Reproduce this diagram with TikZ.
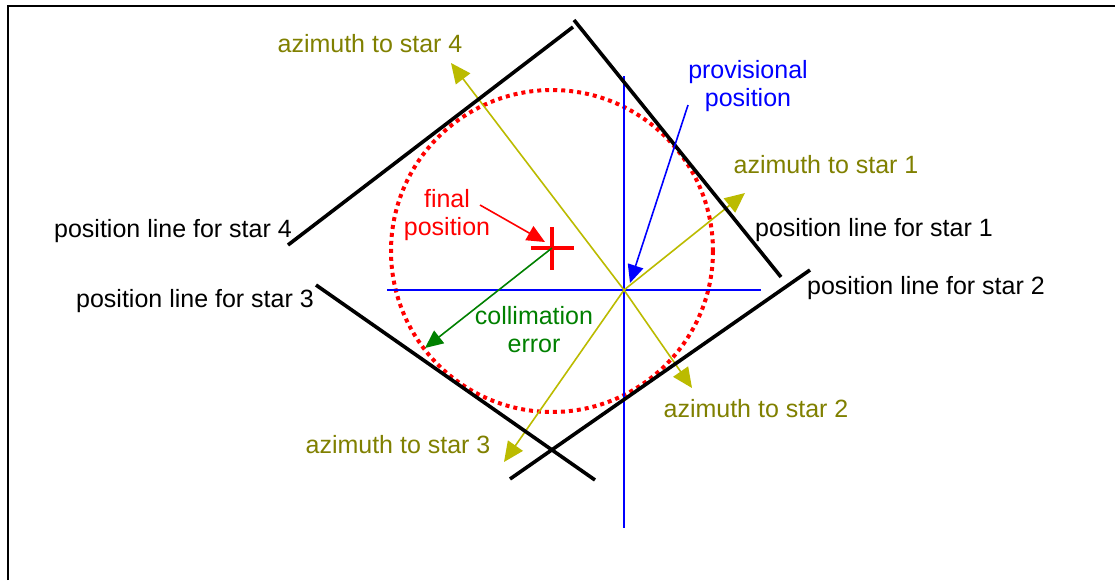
\documentclass[tikz,border=0pt]{standalone}
\usepackage{fontspec}
\setmainfont{Liberation Sans}
\usetikzlibrary{arrows.meta,positioning}
\definecolor{azolive}{RGB}{128,128,0}
\definecolor{azline}{RGB}{187,187,0}
\definecolor{provblue}{RGB}{0,0,255}
\definecolor{fixred}{RGB}{255,0,0}
\definecolor{errgreen}{RGB}{0,128,0}
\tikzset{
  txt/.style={
    font=\fontsize{12.5}{14}\selectfont,
    align=center,
    inner sep=0pt
  },
  posline/.style={line width=1.8pt, draw=black},
  gridline/.style={line width=1.4pt, draw=provblue},
  azarrow/.style={-{Triangle[length=10pt,width=9pt]}, line width=0.8pt, draw=azline},
  pointer/.style={-{Triangle[length=9pt,width=8pt]}, line width=0.8pt},
  errcircle/.style={draw=fixred, line width=2pt, dash pattern=on 2pt off 2pt}
}
\begin{document}
\begin{tikzpicture}[x=0.5pt, y=-0.5pt]
  \useasboundingbox (0,0) rectangle (1115,580);
  \draw[line width=1pt] (8,580) -- (8,6) -- (1115,6);

  \coordinate (prov) at (624,290);
  \coordinate (fix) at (552,248);
  \coordinate (ctr) at (552,251);

  \draw[errcircle] (ctr) circle[radius=161];

  \coordinate (gw) at (387,290);
  \coordinate (ge) at (761,290);
  \coordinate (gn) at (624,76);
  \coordinate (gs) at (624,528);
  \draw[gridline] (gw) -- (ge);
  \draw[gridline] (gn) -- (gs);

  \coordinate (az1) at (745,193);
  \coordinate (az2) at (692,388);
  \coordinate (az3) at (504,462);
  \coordinate (az4) at (451,63);
  \draw[azarrow] (prov) -- (az1);
  \draw[azarrow] (prov) -- (az2);
  \draw[azarrow] (prov) -- (az3);
  \draw[azarrow] (prov) -- (az4);

  \coordinate (p1a) at (574,20);
  \coordinate (p1b) at (781,277);
  \coordinate (p2a) at (810,270);
  \coordinate (p2b) at (510,479);
  \coordinate (p3a) at (316,285);
  \coordinate (p3b) at (595,480);
  \coordinate (p4a) at (288,245);
  \coordinate (p4b) at (573,27);
  \draw[posline] (p1a) -- (p1b);
  \draw[posline] (p2a) -- (p2b);
  \draw[posline] (p3a) -- (p3b);
  \draw[posline] (p4a) -- (p4b);

  \draw[line width=2.2pt, fixred] (531,248) -- (574,248);
  \draw[line width=2.2pt, fixred] (552,227) -- (552,270);

  \node[txt, text=azolive] (t4) at (370,44) {azimuth to star 4};
  \node[txt, text=provblue] (tprov) at (748,86) {provisional\\position};
  \node[txt, text=azolive] (t1) at (826,165) {azimuth to star 1};
  \node[txt, text=fixred] (tfix) at (447,215) {final\\position};
  \node[txt] (l4) at (173,231) {position line for star 4};
  \node[txt] (l1) at (874,230) {position line for star 1};
  \node[txt] (l2) at (926,288) {position line for star 2};
  \node[txt] (l3) at (195,301) {position line for star 3};
  \node[txt, text=errgreen] (tcoll) at (534,330) {collimation\\error};
  \node[txt, text=azolive] (t2) at (756,409) {azimuth to star 2};
  \node[txt, text=azolive] (t3) at (398,445) {azimuth to star 3};

  \coordinate (provtail) at (688,105);
  \coordinate (provtip) at (630,283);
  \coordinate (fixtail) at (480,205);
  \coordinate (fixtip) at (545,242);
  \coordinate (errtip) at (425,348);
  \draw[pointer, provblue] (provtail) -- (provtip);
  \draw[pointer, fixred] (fixtail) -- (fixtip);
  \draw[pointer, errgreen] (fix) -- (errtip);
\end{tikzpicture}
\end{document}
